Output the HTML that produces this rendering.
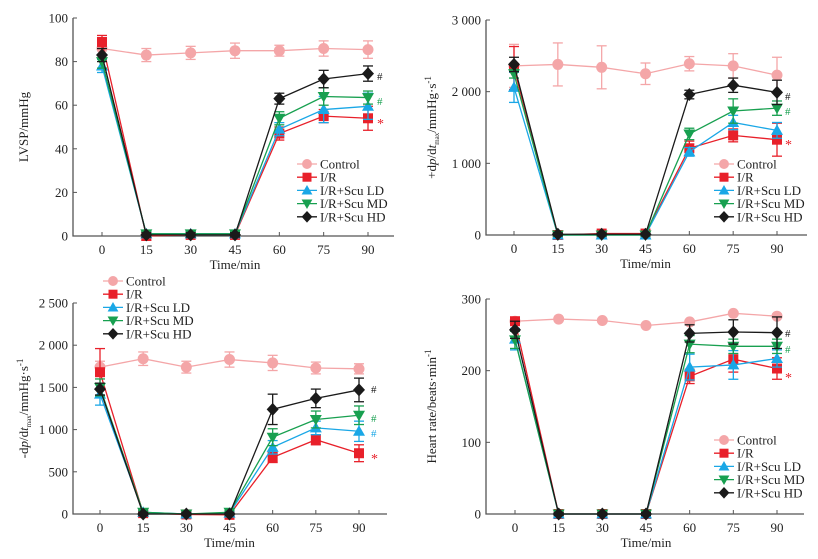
<!DOCTYPE html>
<html><head><meta charset="utf-8"><style>
html,body{margin:0;padding:0;background:#fff;}
svg{display:block;font-family:"Liberation Serif",serif;}
</style></head><body>
<svg id="fig" width="818" height="559" viewBox="0 0 818 559" xmlns="http://www.w3.org/2000/svg"></svg>
<script>
const times = [0,15,30,45,60,75,90];
const seriesNames = ["Control","I/R","I/R+Scu LD","I/R+Scu MD","I/R+Scu HD"];
const seriesColors = ["#f4a6a8","#e8202a","#1aa7e6","#18a050","#1a1a1a"];
const seriesMarkers = ["circle","square","triangle","triangleDown","diamond"];

// Panel A: LVSP
const lvspControl = [86,83,84,85,85,86,85.5];
const lvspIR = [89,0,0.5,0.5,47,55,54];
const lvspLD = [78,1,1,1,49,58,59.5];
const lvspMD = [80,1,1,1,54,64,63.5];
const lvspHD = [83,0.5,0.5,0.5,63,72,74.5];
const lvspErr = [[3,3,3,3.5,2.5,3.5,4],[3,2,1,1,3,3,5.5],[3,1,1,1,3,6,6],[3,1,1,1,3,4,3],[3,1,1,1,2.5,4,3.5]];
const lvspTicks = [0,20,40,60,80,100];

// Panel B: +dp/dt max
const pdpControl = [2360,2380,2340,2250,2390,2360,2230];
const pdpIR = [2330,0,20,20,1210,1390,1330];
const pdpLD = [2060,0,0,0,1160,1570,1460];
const pdpMD = [2250,0,0,0,1410,1730,1770];
const pdpHD = [2380,10,10,10,1960,2090,1990];
const pdpErr = [[300,300,300,150,100,170,250],[300,20,20,20,100,90,230],[210,20,20,20,60,100,110],[60,20,20,20,80,170,100],[100,20,20,20,60,100,170]];
const pdpTicks = [0,1000,2000,3000];

// Panel C: -dp/dt max
const ndpControl = [1740,1840,1740,1830,1790,1730,1720];
const ndpIR = [1680,10,-5,-10,670,880,720];
const ndpLD = [1420,20,0,10,790,1020,980];
const ndpMD = [1500,20,0,20,910,1120,1170];
const ndpHD = [1480,0,0,0,1240,1370,1470];
const ndpErr = [[70,80,70,90,90,70,60],[280,20,20,20,60,60,100],[130,20,20,20,80,80,120],[100,20,20,20,100,100,110],[70,20,20,20,180,110,140]];
const ndpTicks = [0,500,1000,1500,2000,2500];

// Panel D: Heart rate
const hrControl = [269,272,270,263,268,280,276];
const hrIR = [269,0,0,0,192,216,203];
const hrLD = [244,0,0,0,205,208,217];
const hrMD = [243,0,0,0,237,234,234];
const hrHD = [257,0,0,0,252,254,253];
const hrErr = [[3,2,2,2,2,2,3],[5,2,2,2,10,18,15],[15,2,2,2,18,20,12],[12,2,2,2,12,10,10],[12,2,2,2,12,17,22]];
const hrTicks = [0,100,200,300];

const NS = "http://www.w3.org/2000/svg";
const svg = document.getElementById("fig");
function mk(tag, attrs, parent){
  const e = document.createElementNS(NS, tag);
  for (const k in attrs) e.setAttribute(k, attrs[k]);
  (parent||svg).appendChild(e);
  return e;
}
function fmt(v){ return v>=1000 ? String(v).replace(/(\d)(\d{3})$/,"$1 $2") : String(v); }

function marker(g, type, x, y, color, s){
  let el;
  if (type==="circle") el = mk("circle",{cx:x,cy:y,r:s*0.55,fill:color},g);
  else if (type==="square") el = mk("rect",{x:x-s*0.5,y:y-s*0.5,width:s,height:s,fill:color},g);
  else if (type==="triangle") el = mk("polygon",{points:`${x},${y-s*0.6} ${x-s*0.6},${y+s*0.45} ${x+s*0.6},${y+s*0.45}`,fill:color},g);
  else if (type==="triangleDown") el = mk("polygon",{points:`${x},${y+s*0.6} ${x-s*0.6},${y-s*0.45} ${x+s*0.6},${y-s*0.45}`,fill:color},g);
  else el = mk("polygon",{points:`${x},${y-s*0.65} ${x+s*0.6},${y} ${x},${y+s*0.65} ${x-s*0.6},${y}`,fill:color},g);
  return el;
}

function panel(cfg){
  const g = mk("g",{});
  
  
  const ymax = cfg.ticks[cfg.ticks.length-1];
  const ys = v => cfg.y0 + (cfg.yTop - cfg.y0) * v / ymax;
  const xs = t => cfg.x0 + (cfg.x90 - cfg.x0) * t / 90;
  // axes
  const ax = mk("path",{d:`M${cfg.ax},${ys(ymax)} L${cfg.ax},${cfg.y0} L${cfg.axEnd},${cfg.y0}`,stroke:"#555",fill:"none","stroke-width":1.3},g);
  
  
  cfg.ticks.forEach(v=>{
    mk("line",{x1:cfg.ax,x2:cfg.ax+4,y1:ys(v),y2:ys(v),stroke:"#555","stroke-width":1},g);
    const t = mk("text",{x:cfg.ax-5,y:ys(v)+4.5,"text-anchor":"end","font-size":13,fill:"#222"},g);
    t.textContent = fmt(v);
    
    
  });
  times.forEach(tm=>{
    mk("line",{x1:xs(tm),x2:xs(tm),y1:cfg.y0,y2:cfg.y0-4,stroke:"#555","stroke-width":1},g);
    const t = mk("text",{x:xs(tm),y:cfg.y0+18,"text-anchor":"middle","font-size":13,fill:"#222"},g);
    t.textContent = tm;
    
    
  });
  const xl = mk("text",{x:(cfg.x0+cfg.x90)/2,y:cfg.y0+33,"text-anchor":"middle","font-size":13,fill:"#222"},g);
  xl.textContent = "Time/min";
  
  
  const yl = mk("text",{transform:`translate(${cfg.ylx},${(cfg.y0+ys(ymax))/2}) rotate(-90)`,"text-anchor":"middle","font-size":13,fill:"#222"},g);
  yl.innerHTML = cfg.ylabel;
  
  
  // series
  cfg.data.forEach((vals,i)=>{
    const sg = mk("g",{},g);
    
    
    const c = seriesColors[i];
    mk("polyline",{points:vals.map((v,j)=>`${xs(times[j])},${ys(v)}`).join(" "),fill:"none",stroke:c,"stroke-width":1.3},sg);
    vals.forEach((v,j)=>{
      const e = cfg.err[i][j], x = xs(times[j]);
      mk("line",{x1:x,x2:x,y1:ys(v-e),y2:ys(v+e),stroke:c,"stroke-width":1.3},sg);
      mk("line",{x1:x-5,x2:x+5,y1:ys(v+e),y2:ys(v+e),stroke:c,"stroke-width":1.3},sg);
      mk("line",{x1:x-5,x2:x+5,y1:ys(v-e),y2:ys(v-e),stroke:c,"stroke-width":1.3},sg);
      const m = marker(sg, seriesMarkers[i], x, ys(v), c, 10);
      
      
    });
  });
  // legend
  const lg = mk("g",{},g);
  
  
  seriesNames.forEach((n,i)=>{
    const y = cfg.legY + i*13.2;
    mk("line",{x1:cfg.legX-10,x2:cfg.legX+10,y1:y,y2:y,stroke:seriesColors[i],"stroke-width":1.3},lg);
    marker(lg, seriesMarkers[i], cfg.legX, y, seriesColors[i], 9);
    const t = mk("text",{x:cfg.legX+13,y:y+4.5,"font-size":13,fill:"#222"},lg);
    t.textContent = n;
    
    
  });
  cfg.notes.forEach(nt=>{
    const t = mk("text",{x:nt[0],y:nt[1],"font-size":nt[2]==="*"?14:11,fill:seriesColors[nt[3]]},g);
    t.textContent = nt[2];
    
    
  });
}

const sup = s => `<tspan dy="-5" font-size="9">${s}</tspan><tspan dy="5"></tspan>`;
const dpl = (sign)=>`${sign}d<tspan font-style="italic">p</tspan>/d<tspan font-style="italic">t</tspan><tspan dy="3" font-size="7">max</tspan><tspan dy="-3">/mmHg·s</tspan>${sup("-1")}`;

panel({name:"lvsp-chart",data:[lvspControl,lvspIR,lvspLD,lvspMD,lvspHD],err:lvspErr,ticks:lvspTicks,
  ax:73,axEnd:394,y0:236,yTop:18,x0:102,x90:368,ylx:28,ylabel:"LVSP/mmHg",
  legX:307,legY:164,notes:[[377,80,"#",4],[377,105,"#",3],[377,128,"*",1]]});
panel({name:"positive-dpdt-chart",data:[pdpControl,pdpIR,pdpLD,pdpMD,pdpHD],err:pdpErr,ticks:pdpTicks,
  ax:486,axEnd:807,y0:235,yTop:20,x0:514,x90:777,ylx:436,ylabel:dpl("+"),
  legX:724,legY:164,notes:[[785,100,"#",4],[785,115,"#",3],[785,149,"*",1]]});
panel({name:"negative-dpdt-chart",data:[ndpControl,ndpIR,ndpLD,ndpMD,ndpHD],err:ndpErr,ticks:ndpTicks,
  ax:73,axEnd:387,y0:514,yTop:303,x0:100,x90:359,ylx:28,ylabel:dpl("-"),
  legX:113,legY:281,notes:[[371,393,"#",4],[371,422,"#",3],[371,437,"#",2],[371,463,"*",1]]});
panel({name:"heart-rate-chart",data:[hrControl,hrIR,hrLD,hrMD,hrHD],err:hrErr,ticks:hrTicks,
  ax:486,axEnd:804,y0:514,yTop:299,x0:515,x90:777,ylx:436,ylabel:"Heart rate/beats·min"+sup("-1"),
  legX:724,legY:440,notes:[[785,337,"#",4],[785,353,"#",3],[785,382,"*",1]]});
</script>
</body></html>
